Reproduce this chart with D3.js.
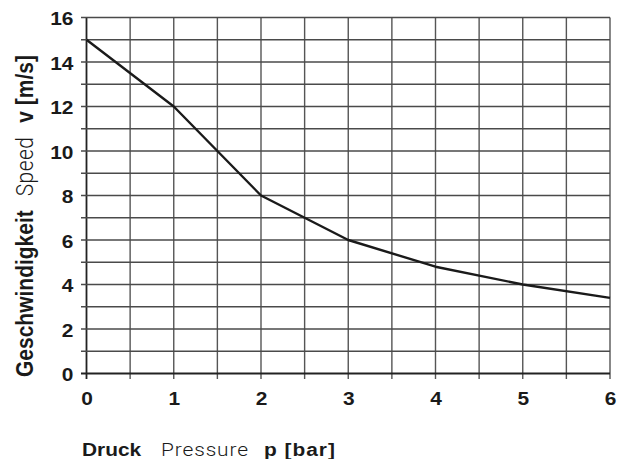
<!DOCTYPE html>
<html>
<head>
<meta charset="utf-8">
<script src="https://cdn.jsdelivr.net/npm/d3@7"></script>
<style>
  html, body { margin: 0; padding: 0; background: #fff; }
  svg { display: block; }
  text { font-family: "Liberation Sans", Arial, sans-serif; fill: #1a1a1a; }
  .light { font-family: Roboto, "Liberation Sans", sans-serif; font-weight: 300; }
  .bold { font-weight: bold; }
</style>
</head>
<body>
<svg id="chart" width="622" height="459"></svg>
<script>
// Pressure p [bar] against speed v [m/s]
const pressure = [0, 1, 2, 3, 4, 5, 6];
const speed    = [15, 12, 8, 6, 4.8, 4, 3.4];

const xTicks = [0, 1, 2, 3, 4, 5, 6];
const yTicks = [0, 2, 4, 6, 8, 10, 12, 14, 16];
const xGrid = d3.range(0, 6.01, 0.5);
const yGrid = d3.range(0, 16.01, 1);

const svg = d3.select("#chart");
const plotLeft = 86.5, plotRight = 610, plotTop = 17.5, plotBottom = 373.5;

const x = d3.scaleLinear().domain([0, 6]).range([plotLeft, plotRight]);
const y = d3.scaleLinear().domain([0, 16]).range([plotBottom, plotTop]);

// text is drawn slightly wider than tall
const sx = 1.1;

// grid
const grid = svg.append("g");
grid.selectAll(".gx").data(xGrid).join("line")
  .attr("x1", d => x(d)).attr("x2", d => x(d))
  .attr("y1", y(16)).attr("y2", y(0) + 5.5)
  .attr("stroke", d => d === 0 ? "#222" : "#555")
  .attr("stroke-width", d => d === 0 ? 1.8 : 1.4);
grid.selectAll(".gy").data(yGrid).join("line")
  .attr("x1", x(0) - 5.5).attr("x2", x(6))
  .attr("y1", d => y(d)).attr("y2", d => y(d))
  .attr("stroke", d => d === 0 ? "#222" : "#4a4a4a")
  .attr("stroke-width", d => d === 0 ? 1.8 : 1.4);

// axes (labels only; grid lines carry the ticks)
const xAxis = svg.append("g")
  .attr("transform", `translate(0,${plotBottom})`)
  .call(d3.axisBottom(x).tickValues(xTicks).tickSize(0).tickPadding(0).tickFormat(d3.format("d")));
xAxis.select(".domain").remove();
xAxis.selectAll("text")
  .attr("class", "bold")
  .attr("y", 0).attr("dy", 0)
  .attr("transform", `translate(0,31) scale(${sx},1)`)
  .style("font-size", "19px")
  .attr("fill", "#1a1a1a");

const yAxis = svg.append("g")
  .attr("transform", `translate(${plotLeft},0)`)
  .call(d3.axisLeft(y).tickValues(yTicks).tickSize(0).tickPadding(0).tickFormat(d3.format("d")));
yAxis.select(".domain").remove();
yAxis.selectAll("text")
  .attr("class", "bold")
  .attr("x", 0).attr("dy", 0)
  .attr("text-anchor", "end")
  .attr("transform", `translate(-13,7) scale(${sx},1)`)
  .style("font-size", "19px")
  .attr("fill", "#1a1a1a");

// curve
const line = d3.line().x((d, i) => x(pressure[i])).y(d => y(d));
svg.append("path")
  .datum(speed)
  .attr("d", line)
  .attr("fill", "none")
  .attr("stroke", "#1a1a1a")
  .attr("stroke-width", 2.4)
  .attr("stroke-linejoin", "round");

// x axis title: German, English, symbol
const xTitle = [
  { text: "Druck",    cls: "bold",  at: 82,  spacing: 0 },
  { text: "Pressure", cls: "light", at: 161, spacing: 0.8 },
  { text: "p [bar]",  cls: "bold",  at: 264, spacing: 0.9 }
];
svg.selectAll(".xtitle").data(xTitle).join("text")
  .attr("class", d => d.cls)
  .attr("transform", d => `translate(${d.at},455.5) scale(${sx},1)`)
  .style("font-size", "19px")
  .style("letter-spacing", d => d.spacing + "px")
  .text(d => d.text);

// y axis title, reading upwards
const yt = svg.append("text")
  .attr("transform", `translate(33,377) scale(${sx},1) rotate(-90)`)
  .style("font-size", "21px");
yt.append("tspan").attr("class", "bold").text("Geschwindigkeit");
yt.append("tspan").attr("class", "light").attr("dx", 14).style("letter-spacing", "0.4px").text("Speed");
yt.append("tspan").attr("class", "bold").attr("dx", 14).text("v [m/s]");
</script>
</body>
</html>
